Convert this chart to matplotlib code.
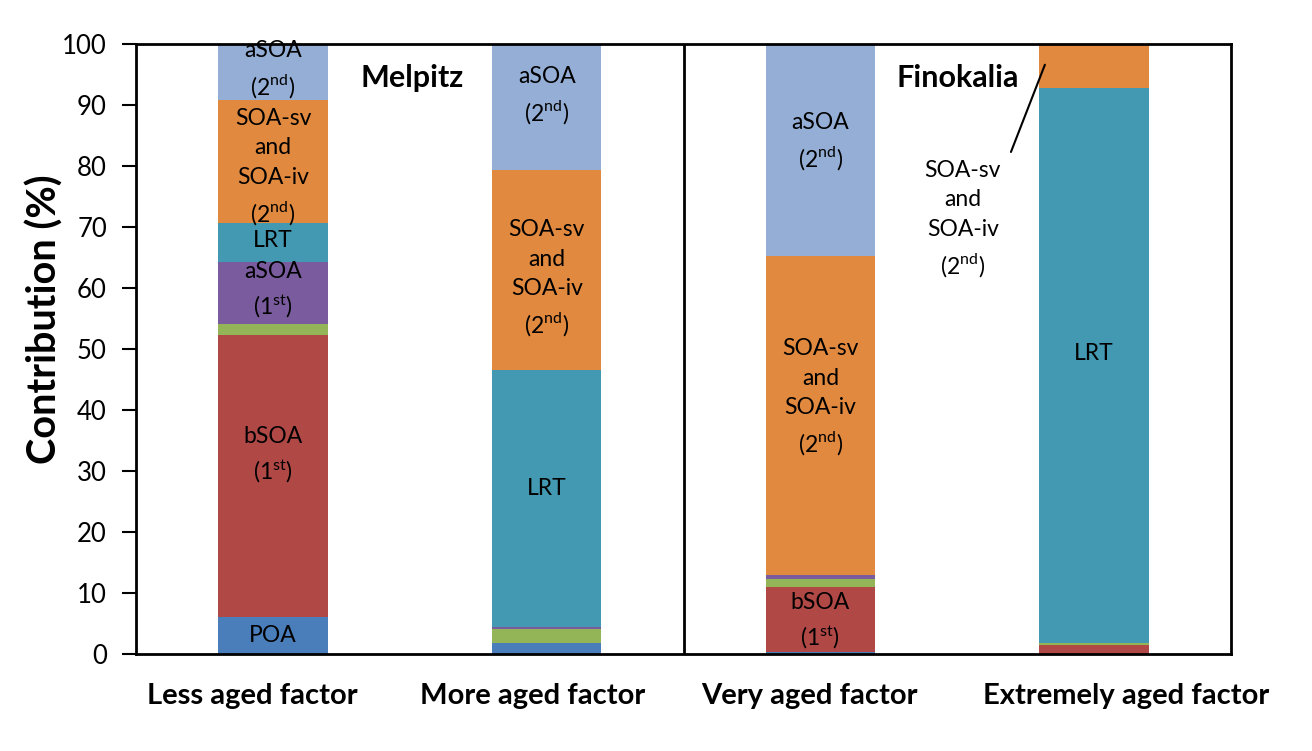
import matplotlib.pyplot as plt
import numpy as np

plt.rcParams["font.family"] = ["Lato", "DejaVu Sans"]
plt.rcParams["mathtext.fontset"] = "custom"
plt.rcParams["mathtext.rm"] = "Lato"

factors = [
    "Less aged factor",
    "More aged factor",
    "Very aged factor",
    "Extremely aged factor"
]

# contributions (%) of each component, bottom to top
poa = [6.0, 1.8, 0.4, 0.0]
bsoa_1st = [46.3, 0.0, 10.6, 1.5]
other = [1.8, 2.3, 1.3, 0.3]
asoa_1st = [10.2, 0.4, 0.7, 0.0]
lrt = [6.3, 42.0, 0.0, 91.0]
soa_sv_iv = [20.3, 32.9, 52.2, 7.0]
asoa_2nd = [9.1, 20.6, 34.8, 0.2]

components = [poa, bsoa_1st, other, asoa_1st, lrt, soa_sv_iv, asoa_2nd]
colors = [
    "#4a7ebb",
    "#b04846",
    "#93b557",
    "#7a5c9e",
    "#4399b1",
    "#e0893f",
    "#94aed6"
]

# category labels are not quite centred under the bars in the original
label_shift = [-0.076, -0.05, -0.042, 0.116]

fig = plt.figure(figsize=(13.12, 7.51), dpi=100)
ax = fig.add_axes([0.1037, 0.1292, 0.8346, 0.8122])

x = np.arange(len(factors))
bottom = np.zeros(len(factors))

for values, color in zip(components, colors):
    ax.bar(x, values, width=0.4, bottom=bottom, color=color)
    bottom = bottom + np.array(values)

ax.set_xlim(-0.5, 3.5)
ax.set_ylim(0, 100)
ax.set_yticks(range(0, 101, 10))

ax.set_xticks([])
for xi, name, shift in zip(x, factors, label_shift):
    ax.text(xi + shift, -0.069, name, transform=ax.get_xaxis_transform(),
            ha="center", va="center", fontsize=21, fontweight="bold")

ax.tick_params(axis="y", labelsize=18.5, length=10, width=1.5, pad=11)

for side in ["left", "bottom", "top", "right"]:
    ax.spines[side].set_linewidth(2)
    ax.spines[side].set_color("black")

ax.axvline(1.5, color="black", lw=2)

ax.set_ylabel("Contribution (%)", fontsize=28.5, fontweight="bold")
ax.yaxis.set_label_coords(-0.066, 0.549)

sv_text = "SOA-sv\nand\nSOA-iv\n(2$^{\\mathrm{nd}}$)"
a2_text = "aSOA\n(2$^{\\mathrm{nd}}$)"
a1_text = "aSOA\n(1$^{\\mathrm{st}}$)"
b1_text = "bSOA\n(1$^{\\mathrm{st}}$)"

labels = [
    (0, 95.8, a2_text),
    (0, 79.8, sv_text),
    (0, 67.8, "LRT"),
    (0, 59.6, a1_text),
    (0, 32.5, b1_text),
    (0, 3.0, "POA"),
    (1, 91.5, a2_text),
    (1, 61.5, sv_text),
    (1, 27.2, "LRT"),
    (2, 84.0, a2_text),
    (2, 42.0, sv_text),
    (2, 5.3, b1_text),
    (3, 49.3, "LRT"),
]

for xi, yi, txt in labels:
    ax.text(xi, yi, txt, ha="center", va="center", fontsize=16.5,
            linespacing=1.5)

ax.text(0.51, 94.4, "Melpitz", ha="center", va="center",
        fontsize=22, fontweight="bold")
ax.text(2.5, 94.4, "Finokalia", ha="center", va="center",
        fontsize=22, fontweight="bold")

# leader line from the Finokalia note to the orange segment
ax.annotate("", xy=(2.82, 96.6), xytext=(2.696, 82.3),
            arrowprops=dict(arrowstyle="-", color="black", lw=1.5,
                            shrinkA=0, shrinkB=0))
ax.text(2.52, 71.3, sv_text, ha="center", va="center", fontsize=16.5,
        linespacing=1.5)

plt.savefig("out.png", dpi=100)
plt.close()
